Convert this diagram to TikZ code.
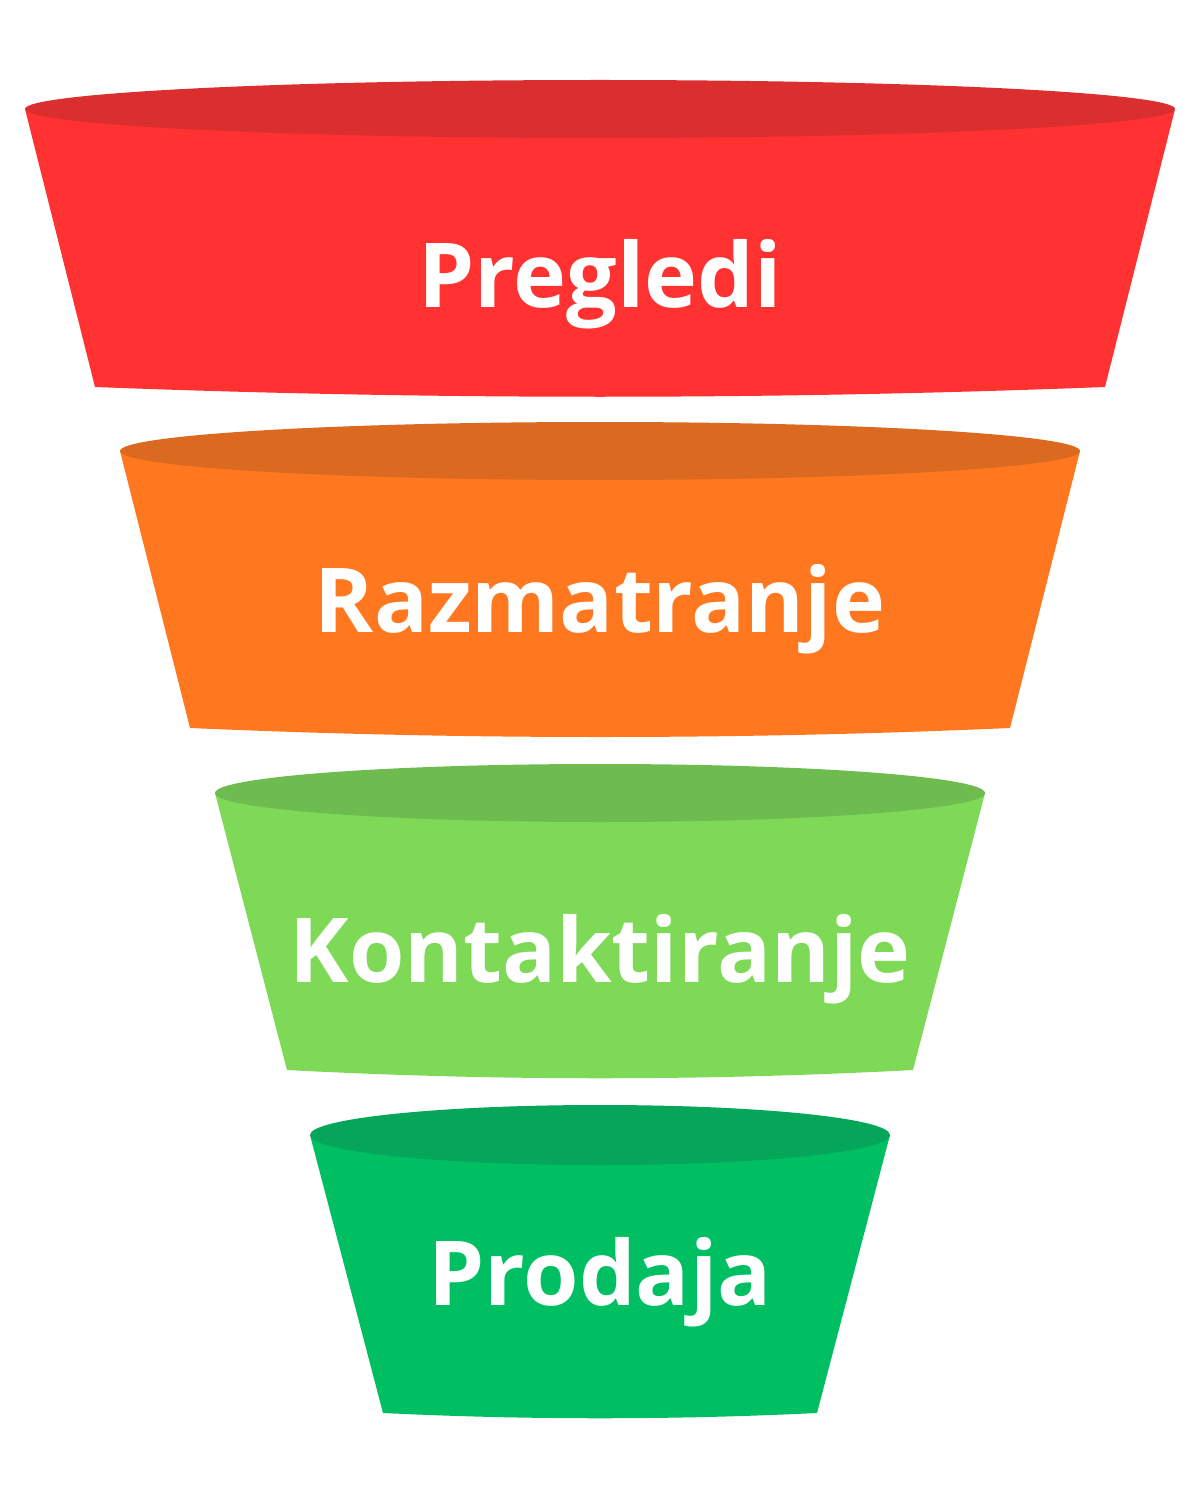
\documentclass[tikz,border=0pt]{standalone}
\usepackage{fontspec}
\setmainfont{Open Sans}
\usepackage{tikz}
\usepackage{xcolor}

\definecolor{redside}{HTML}{FF3131}
\definecolor{redtop}{HTML}{DB2F2F}
\definecolor{orangeside}{HTML}{FF781F}
\definecolor{orangetop}{HTML}{DB6A20}
\definecolor{limeside}{HTML}{7ED957}
\definecolor{limetop}{HTML}{6EBB4F}
\definecolor{greenside}{HTML}{00BF63}
\definecolor{greentop}{HTML}{05A55A}

\begin{document}
\begin{tikzpicture}[x=0.02cm, y=-0.02cm,
    stage/.style={text=white, anchor=base, inner sep=0pt,
       font=\bfseries\fontsize{51}{60}\selectfont}]
    \useasboundingbox (0,0) rectangle (1200,1500);
    % Pregledi
    \fill[redside] (25,109) -- (95,387) .. controls (432,400) and (768,400) .. (1105,387) -- (1175,109) -- cycle;
    \fill[redtop] (600,109) ellipse [x radius=575, y radius=29];
    \node[stage] (pregledi) at (600,308) {Pregledi};
    % Razmatranje
    \fill[orangeside] (120,451) -- (190,728) .. controls (463,740) and (737,740) .. (1010,728) -- (1080,451) -- cycle;
    \fill[orangetop] (600,451) ellipse [x radius=480, y radius=29];
    \node[stage] (razmatranje) at (600,632) {Razmatranje};
    % Kontaktiranje
    \fill[limeside] (215,793) -- (287,1070) .. controls (496,1081) and (704,1081) .. (913,1070) -- (985,793) -- cycle;
    \fill[limetop] (600,793) ellipse [x radius=385, y radius=29];
    \node[stage] (kontaktiranje) at (600,982) {Kontaktiranje};
    % Prodaja
    \fill[greenside] (310,1135) -- (383,1413) .. controls (528,1420) and (672,1420) .. (817,1413) -- (890,1135) -- cycle;
    \fill[greentop] (600,1135) ellipse [x radius=290, y radius=30];
    \node[stage] (prodaja) at (600,1305) {Prodaja};
  \end{tikzpicture}
\end{document}
